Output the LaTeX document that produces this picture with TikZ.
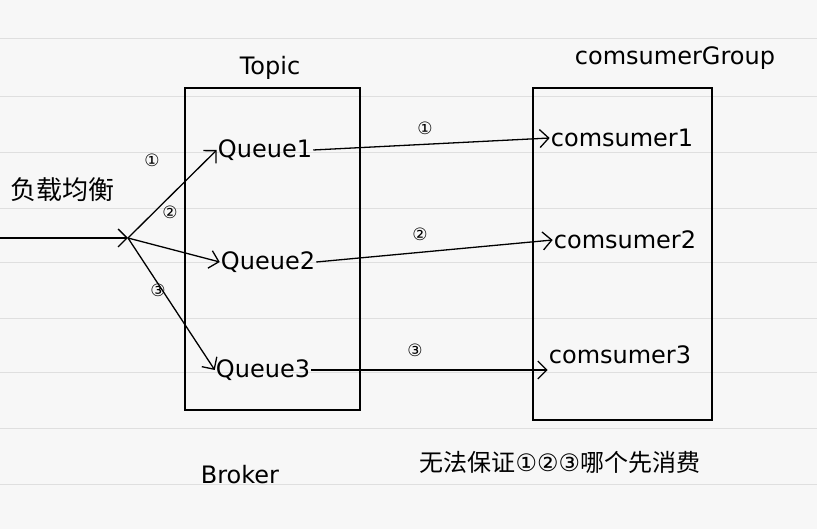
\documentclass[tikz,border=0pt]{standalone}
\usepackage{fontspec}
\setmainfont{DejaVu Sans}
\newfontfamily\cjk{Noto Sans CJK SC}
\usetikzlibrary{arrows.meta}
\begin{document}
\begin{tikzpicture}[x=1pt,y=-1pt,
  box/.style={draw,line width=1.5pt},
  lbl/.style={font=\fontsize{24}{28}\selectfont,inner sep=1pt},
  num/.style={font=\fontsize{17}{20}\selectfont},
  arr/.style={draw,line width=1.3pt,-{Straight Barb[length=9pt]}}]
\fill[gray!6] (0,0) rectangle (817,529);
\useasboundingbox (0,0) rectangle (817,529);
\foreach \yy in {38,96,152,208,262,318,372,428,484} \draw[gray!25,line width=0.6pt] (0,\yy) -- (817,\yy);
\draw[box] (185,88) rectangle (360,410);
\draw[box] (533,88) rectangle (712,420);
\node[lbl] (topic) at (270,68) {Topic};
\node[lbl] (cg) at (675,58) {comsumerGroup};
\node[lbl] (q1) at (265,150) {Queue1};
\node[lbl] (q2) at (268,262) {Queue2};
\node[lbl] (q3) at (263,370) {Queue3};
\node[lbl] (c1) at (622,138) {comsumer1};
\node[lbl] (c2) at (625,240) {comsumer2};
\node[lbl] (c3) at (620,355) {comsumer3};
\draw[arr] (q1.east) -- (c1.west);
\draw[arr] (q2.east) -- (c2.west);
\draw[arr] (q3.east) -- (c3.west |- q3.east);
\node[num] (n1) at (425,128) {①};
\node[num] (n2) at (420,234) {②};
\node[num] (n3) at (415,350) {③};
\coordinate (in) at (0,238);
\coordinate (hub) at (128,238);
\draw[arr] (in) -- (hub);
\node[font=\cjk\fontsize{26}{30}\selectfont] (lb) at (62,190) {负载均衡};
\draw[arr] (hub) -- (q1.west);
\draw[arr] (hub) -- (q2.west);
\draw[arr] (hub) -- (q3.west);
\node[num] (m1) at (152,160) {①};
\node[num] (m2) at (170,212) {②};
\node[num] (m3) at (158,290) {③};
\node[lbl] (broker) at (240,475) {Broker};
\node[font=\cjk\fontsize{24}{28}\selectfont] (note) at (560,462) {无法保证{\fontspec{DejaVu Sans}①②③}哪个先消费};
\end{tikzpicture}
\end{document}
